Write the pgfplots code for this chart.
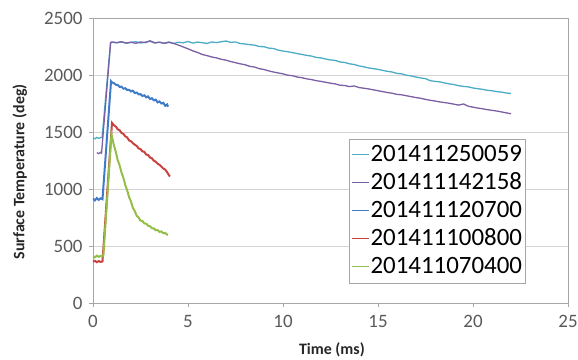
\documentclass[border=0pt]{standalone}
\usepackage{fontspec}
\setmainfont{Carlito}
\usepackage{pgfplots}
\pgfplotsset{compat=1.18}
\definecolor{ccyan}{HTML}{4BACC6}
\definecolor{cpurple}{HTML}{7A5FA5}
\definecolor{cblue}{HTML}{3F7BC8}
\definecolor{cred}{HTML}{C8423E}
\definecolor{cgreen}{HTML}{94BE48}
\definecolor{tick}{HTML}{595959}
\definecolor{gridc}{HTML}{D4D4D4}
\definecolor{axc}{HTML}{A6A6A6}
\begin{document}
\begin{tikzpicture}
\begin{axis}[
  at={(0,0)}, anchor=south west,
  scale only axis, width=475bp, height=285bp,
  xmin=0, xmax=25, ymin=0, ymax=2500,
  xtick={0,5,10,15,20,25}, ytick={0,500,1000,1500,2000,2500},
  ymajorgrids, grid style={gridc, line width=0.8pt},
  axis line style={axc, line width=0.9pt},
  tick align=outside, major tick length=4bp,
  tick style={axc, line width=0.8pt},
  xtick pos=bottom, ytick pos=left,
  /pgf/number format/assume math mode=true,
  /pgf/number format/1000 sep={},
  ticklabel style={font=\fontsize{19}{22}\selectfont, text=tick},
  xticklabel style={yshift=-5bp},
  yticklabel style={xshift=-3bp},
  xlabel={Time (ms)}, ylabel={Surface Temperature (deg)},
  xlabel style={font=\bfseries\fontsize{16}{19}\selectfont, text=black!85, at={(axis description cs:0.503,-0.165)}, anchor=center},
  ylabel style={font=\bfseries\fontsize{16}{19}\selectfont, text=black!85, at={(axis description cs:-0.154,0.46)}, anchor=center},
  legend cell align=left,
  legend style={at={(axis cs:13.47,1441)}, anchor=north west, draw=axc,
    font=\fontsize{25}{30}\selectfont, inner sep=2bp, row sep=0pt,
    nodes={inner sep=1.5bp, text height=19bp, text depth=6bp}},
  legend image post style={line width=0.9pt},
]
% 201411250059
\addplot[color=ccyan, line width=1.3pt] coordinates {
(0,1448)(0.1,1440)(0.2,1452)(0.3,1445)(0.4,1450)(0.48,1455)(0.92,2280)(1.0,2288)
(1.25,2282)(1.5,2290)(1.75,2278)(2.0,2286)(2.25,2292)(2.5,2280)(2.75,2288)(3.0,2296)
(3.25,2281)(3.5,2287)(3.75,2279)(4.0,2290)(4.25,2277)(4.5,2288)(4.75,2282)(5.0,2294)
(5.25,2280)(5.5,2289)(5.75,2283)(6.0,2277)(6.25,2290)(6.5,2284)(6.75,2292)(7.0,2298)
(7.25,2286)(7.5,2290)(7.75,2276)(8.0,2272)(8.25,2266)(8.5,2262)(8.75,2250)(9.0,2248)
(9.25,2236)(9.5,2232)(9.75,2218)(10.0,2210)(10.25,2204)(10.5,2196)(10.75,2188)(11.0,2180)
(11.25,2172)(11.5,2166)(11.75,2154)(12.0,2150)(12.25,2140)(12.5,2132)(12.75,2128)(13.0,2114)
(13.25,2110)(13.5,2098)(13.75,2092)(14.0,2080)(14.25,2072)(14.5,2062)(14.75,2056)(15.0,2050)
(15.25,2040)(15.5,2032)(15.75,2026)(16.0,2014)(16.25,2010)(16.5,1998)(16.75,1992)(17.0,1982)
(17.25,1974)(17.5,1968)(17.75,1950)(18.0,1944)(18.25,1940)(18.5,1930)(18.75,1922)(19.0,1916)
(19.25,1906)(19.5,1900)(19.75,1896)(20.0,1886)(20.25,1880)(20.5,1874)(20.75,1866)(21.0,1862)
(21.25,1854)(21.5,1850)(21.75,1842)(22.0,1838)};
\addlegendentry{201411250059}
% 201411142158
\addplot[color=cpurple, line width=1.3pt] coordinates {
(0.2,1318)(0.3,1310)(0.4,1322)(0.45,1315)(0.93,2285)(1.0,2290)(1.25,2284)(1.5,2292)
(1.75,2280)(2.0,2288)(2.25,2278)(2.5,2290)(2.75,2284)(3.0,2300)(3.25,2282)(3.5,2288)
(3.75,2278)(4.0,2286)(4.25,2276)(4.5,2262)(4.75,2246)(5.0,2230)(5.25,2212)(5.5,2198)
(5.75,2180)(6.0,2170)(6.25,2158)(6.5,2150)(6.75,2138)(7.0,2130)(7.25,2118)(7.5,2108)
(7.75,2098)(8.0,2090)(8.25,2076)(8.5,2070)(8.75,2056)(9.0,2048)(9.25,2036)(9.5,2026)
(9.75,2018)(10.0,2010)(10.25,1998)(10.5,1994)(10.75,1982)(11.0,1976)(11.25,1966)(11.5,1960)
(11.75,1950)(12.0,1944)(12.25,1936)(12.5,1928)(12.75,1922)(13.0,1910)(13.25,1908)(13.5,1898)
(13.75,1904)(14.0,1890)(14.25,1884)(14.5,1878)(14.75,1870)(15.0,1862)(15.25,1854)(15.5,1846)
(15.75,1840)(16.0,1830)(16.25,1826)(16.5,1818)(16.75,1810)(17.0,1802)(17.25,1796)(17.5,1786)
(17.75,1778)(18.0,1772)(18.25,1764)(18.5,1758)(18.75,1752)(19.0,1744)(19.25,1736)(19.5,1746)
(19.75,1726)(20.0,1718)(20.25,1710)(20.5,1704)(20.75,1696)(21.0,1690)(21.25,1684)(21.5,1676)
(21.75,1668)(22.0,1660)};
\addlegendentry{201411142158}
% 201411120700
\addplot[color=cblue, line width=2pt] coordinates {
(0,915)(0.1,900)(0.2,920)(0.3,905)(0.4,918)(0.5,910)(0.95,1945)(1.0,1935)
(1.1,1928)(1.2,1915)(1.3,1912)(1.4,1896)(1.5,1898)(1.6,1880)(1.7,1884)(1.8,1868)
(1.9,1870)(2.0,1856)(2.1,1862)(2.2,1842)(2.3,1846)(2.4,1830)(2.5,1832)(2.6,1816)
(2.7,1822)(2.8,1804)(2.9,1812)(3.0,1790)(3.1,1796)(3.2,1778)(3.3,1784)(3.4,1760)
(3.5,1768)(3.6,1750)(3.7,1756)(3.8,1730)(3.9,1742)(3.95,1722)};
\addlegendentry{201411120700}
% 201411100800
\addplot[color=cred, line width=2pt] coordinates {
(0,362)(0.1,370)(0.2,358)(0.3,368)(0.4,360)(0.5,365)(1.0,1580)(1.05,1570)
(1.1,1560)(1.2,1548)(1.3,1524)(1.4,1516)(1.5,1492)(1.6,1484)(1.7,1462)(1.8,1452)
(1.9,1426)(2.0,1418)(2.1,1402)(2.2,1388)(2.3,1378)(2.4,1356)(2.5,1350)(2.6,1330)
(2.7,1326)(2.8,1302)(2.9,1298)(3.0,1276)(3.1,1270)(3.2,1248)(3.3,1240)(3.4,1222)
(3.5,1212)(3.6,1196)(3.7,1180)(3.8,1170)(3.9,1148)(4.0,1120)(4.05,1110)};
\addlegendentry{201411100800}
% 201411070400
\addplot[color=cgreen, line width=2pt] coordinates {
(0,410)(0.1,400)(0.2,415)(0.3,405)(0.4,412)(0.5,408)(0.55,420)(0.97,1480)
(1.05,1420)(1.1,1385)(1.2,1326)(1.3,1254)(1.4,1208)(1.5,1144)(1.6,1098)(1.7,1034)
(1.8,988)(1.9,928)(2.0,890)(2.1,834)(2.2,806)(2.3,764)(2.4,750)(2.5,722)
(2.6,720)(2.7,698)(2.8,696)(2.9,678)(3.0,674)(3.1,656)(3.2,654)(3.3,638)
(3.4,640)(3.5,624)(3.6,628)(3.7,612)(3.8,614)(3.9,600)(3.95,598)};
\addlegendentry{201411070400}
\end{axis}
\pgfresetboundingbox
\path[use as bounding box] (-93bp,-57bp) rectangle (485bp,303bp);
\end{tikzpicture}
\end{document}
